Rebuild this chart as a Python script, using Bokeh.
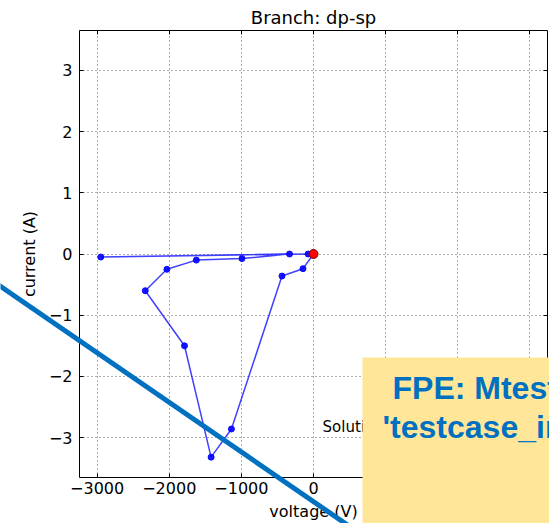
from bokeh.plotting import figure
from bokeh.models import Range1d, FixedTicker, LinearAxis, Label
from bokeh.core.properties import value
from bokeh.embed import file_html
from bokeh.resources import INLINE

# Iteration path of the branch operating point (voltage in V, current in A)
voltage = [-75, -2950, -333, -992, -1625, -2033, -2333, -1789, -1420, -1138, -437, -146, 0]
current = [0.0, -0.05, 0.0, -0.075, -0.10, -0.25, -0.60, -1.50, -3.32, -2.86, -0.36, -0.24, 0.0]

# Converged solution
solution_v = [0]
solution_i = [0.0]

x_ticks = [-3000, -2000, -1000, 0, 1000, 2000, 3000]
y_ticks = [-3, -2, -1, 0, 1, 2, 3]
x_tick_labels = ["\u22123000", "\u22122000", "\u22121000", "0", "1000", "2000", "3000"]
y_tick_labels = ["\u22123", "\u22122", "\u22121", "0", "1", "2", "3"]

# Note pasted over the chart
note_lines = ["FPE: Mtest", "'testcase_in"]

W, H = 549, 523
FL, FR, FT, FB = 79, 547, 30, 478   # frame edges in canvas pixels
FONT = "DejaVu Sans"
NOTE_BLUE = "#0070C0"
NOTE_FILL = "#FFE699"
PINNED = {"position": "absolute", "left": "0px", "top": "0px"}

span_v = 1.1 * max(abs(v) for v in voltage)
span_i = 1.1 * max(abs(i) for i in current)

p = figure(width=W, height=H, output_backend="svg", toolbar_location=None,
           x_range=Range1d(-span_v, span_v), y_range=Range1d(-span_i, span_i),
           min_border_left=FL, min_border_right=W - FR,
           min_border_top=FT, min_border_bottom=H - FB,
           title="Branch: dp-sp",
           x_axis_label="voltage (V)", y_axis_label="current (A)")
p.styles = PINNED

p.outline_line_color = None
p.background_fill_color = "white"
p.border_fill_color = "white"

p.title.align = "center"
p.title.text_font = FONT
p.title.text_font_size = "18px"
p.title.text_font_style = "normal"
p.title.text_color = "black"
p.title.standoff = 5


def style_axis(ax, ticks, labels=None):
    ax.ticker = FixedTicker(ticks=ticks)
    ax.major_tick_in = 4
    ax.major_tick_out = 0
    ax.minor_tick_in = 0
    ax.minor_tick_out = 0
    ax.axis_line_color = "black"
    ax.axis_line_width = 1
    ax.major_tick_line_color = "black"
    if labels is not None:
        ax.major_label_overrides = dict(zip(ticks, labels))
        ax.major_label_text_font = FONT
        ax.major_label_text_font_size = "16px"
        ax.major_label_text_color = "black"
        ax.axis_label_text_font = FONT
        ax.axis_label_text_font_size = "16px"
        ax.axis_label_text_font_style = "normal"
        ax.axis_label_text_color = "black"
    else:
        # tick marks only, no labels
        ax.major_label_text_color = None
        ax.major_label_text_font_size = "0px"
        ax.major_label_standoff = 0


style_axis(p.xaxis[0], x_ticks, x_tick_labels)
style_axis(p.yaxis[0], y_ticks, y_tick_labels)
p.xaxis[0].major_label_standoff = 4
p.xaxis[0].axis_label_standoff = 5
p.yaxis[0].major_label_standoff = 7
p.yaxis[0].axis_label_standoff = 7

top_axis = LinearAxis()
style_axis(top_axis, x_ticks)
p.add_layout(top_axis, "above")
right_axis = LinearAxis()
style_axis(right_axis, y_ticks)
p.add_layout(right_axis, "right")

p.xgrid.ticker = FixedTicker(ticks=x_ticks)
p.ygrid.ticker = FixedTicker(ticks=y_ticks)
for g in (p.xgrid[0], p.ygrid[0]):
    g.grid_line_color = "black"
    g.grid_line_alpha = 0.8
    g.grid_line_width = 0.8
    g.grid_line_dash = "1 3"

# iteration path
p.line(voltage, current, line_color="blue", line_alpha=0.75, line_width=1.5)
p.scatter(voltage, current, size=6, color="blue", alpha=0.9)
p.scatter(solution_v, solution_i, size=9, fill_color="red",
          line_color="#7a0000", line_width=1)

p.add_layout(Label(x=125, y=-2.82, text="Solution", text_font=FONT,
                   text_font_size="15px", text_color="black",
                   text_baseline="middle", text_align="left"))

# Transparent overlay in canvas pixels (y grows downward) carrying the note
# box and the callout stroke, which run past the chart frame.
ov = figure(width=W, height=H, output_backend="svg", toolbar_location=None,
            x_range=Range1d(0, W), y_range=Range1d(H, 0),
            x_axis_type=None, y_axis_type=None, min_border=0)
ov.styles = PINNED
ov.outline_line_color = None
ov.background_fill_alpha = 0
ov.border_fill_alpha = 0
ov.xgrid.visible = False
ov.ygrid.visible = False

ov.quad(left=[362], right=[W + 5], top=[357], bottom=[H + 5],
        fill_color=NOTE_FILL, line_color=None)
ov.text(x=[392, 382], y=[387, 426], text=note_lines,
        text_font=value("Liberation Sans"), text_font_style="bold",
        text_font_size="32px", text_color=NOTE_BLUE,
        text_baseline="middle", text_align="left")
ov.segment(x0=[-10], y0=[279], x1=[355], y1=[530],
           line_color=NOTE_BLUE, line_width=5)

open("out.html", "w").write(file_html([p, ov], INLINE))
